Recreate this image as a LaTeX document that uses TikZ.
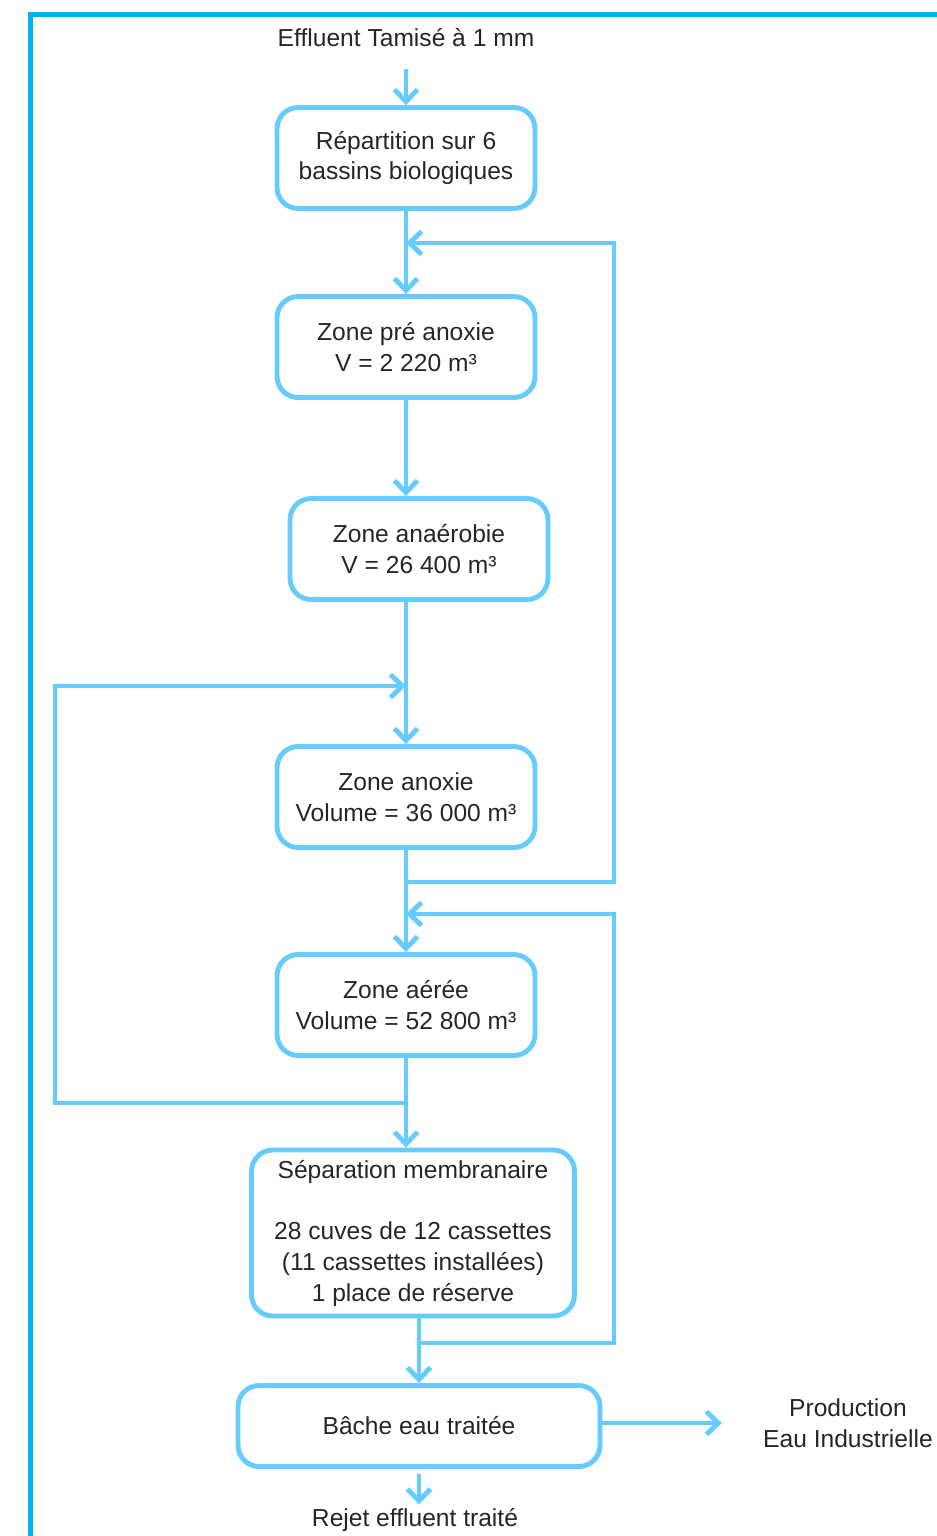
\documentclass[tikz,border=0pt]{standalone}
\usepackage{fontspec}
\setmainfont{Liberation Sans}
\usetikzlibrary{positioning,arrows.meta,calc}
\definecolor{flowblue}{RGB}{102,204,255}
\definecolor{framecol}{RGB}{0,176,240}

\begin{document}
\begin{tikzpicture}[x=0.02cm, y=-0.02cm,
    every node/.style={font=\fontsize{14}{17.5}\selectfont, text=black!85},
    box/.style={draw=flowblue, line width=2.8pt, rectangle, rounded corners=12pt, minimum width=5.16cm, minimum height=2.02cm, align=center, inner sep=2pt},
    lbl/.style={align=center, inner sep=2pt},
    arr/.style={-{Straight Barb[length=2.4mm, width=4.6mm]}, line width=2.8pt, draw=flowblue},
    line/.style={line width=2.8pt, draw=flowblue},
]
\useasboundingbox (0,0) rectangle (937,1536);

% Frame
\draw[framecol, line width=0.1cm] (30.5,1540) -- (30.5,14.5) -- (940,14.5);

% Input
\node[lbl] (effluent) at (406,38) {Effluent Tamisé à 1 mm};

% Basins
\node[box] (repart) at (406,158) {Répartition sur 6\\bassins biologiques};
\node[box] (preanox) at (406,347) {Zone pré anoxie\\V = 2 220 m³};
\node[box] (anaero) at (419,549) {Zone anaérobie\\V = 26 400 m³};
\node[box] (anox) at (406,797) {Zone anoxie\\Volume = 36 000 m³};
\node[box] (aere) at (406,1005) {Zone aérée\\Volume = 52 800 m³};

% Membranes
\node[box, minimum width=6.46cm, minimum height=3.32cm] (sepmem) at (413,1233)
    {Séparation membranaire\\[\baselineskip]28 cuves de 12 cassettes\\(11 cassettes installées)\\1 place de réserve};

% Treated water
\node[box, minimum width=7.24cm, minimum height=1.62cm] (bache) at (419,1426) {Bâche eau traitée};
\node[lbl] (prodEI) at (848,1423) {Production\\Eau Industrielle};
\node[lbl] (rejet) at (415,1520) {Rejet effluent traité};

% Junctions
\coordinate (j1) at (406,243);
\coordinate (j2) at (406,686);
\coordinate (j3) at (406,882);
\coordinate (j4) at (406,914);
\coordinate (j5) at (406,1103);
\coordinate (j6) at (419,1343);
\coordinate (rR) at (614,0);
\coordinate (rL) at (55,0);

% Main flow
\draw[arr, shorten <=0.35cm] (effluent) -- (repart);
\draw[arr] (repart) -- (preanox);
\draw[arr] (preanox.south) -- (preanox.south |- anaero.north);
\draw[arr] (anaero.south -| anox.north) -- (anox.north);
\draw[arr] (anox) -- (aere);
\draw[arr] (aere.south) -- (aere.south |- sepmem.north);
\draw[arr] (sepmem.south -| bache.north) -- (bache.north);
\draw[arr, shorten >=0.75cm] ([yshift=0.06cm]bache.east) -- ([yshift=0.06cm]bache.east -| prodEI.west);
\draw[arr, shorten <=0.1cm] (bache.south) -- (bache.south |- rejet.north);

% Recirculations
\draw[arr] (j3) -| (rR |- j1) -- (j1);
\draw[arr] (j6) -| (rR |- j4) -- (j4);
\draw[arr] (j5) -| (rL |- j2) -- (j2);
\end{tikzpicture}
\end{document}
